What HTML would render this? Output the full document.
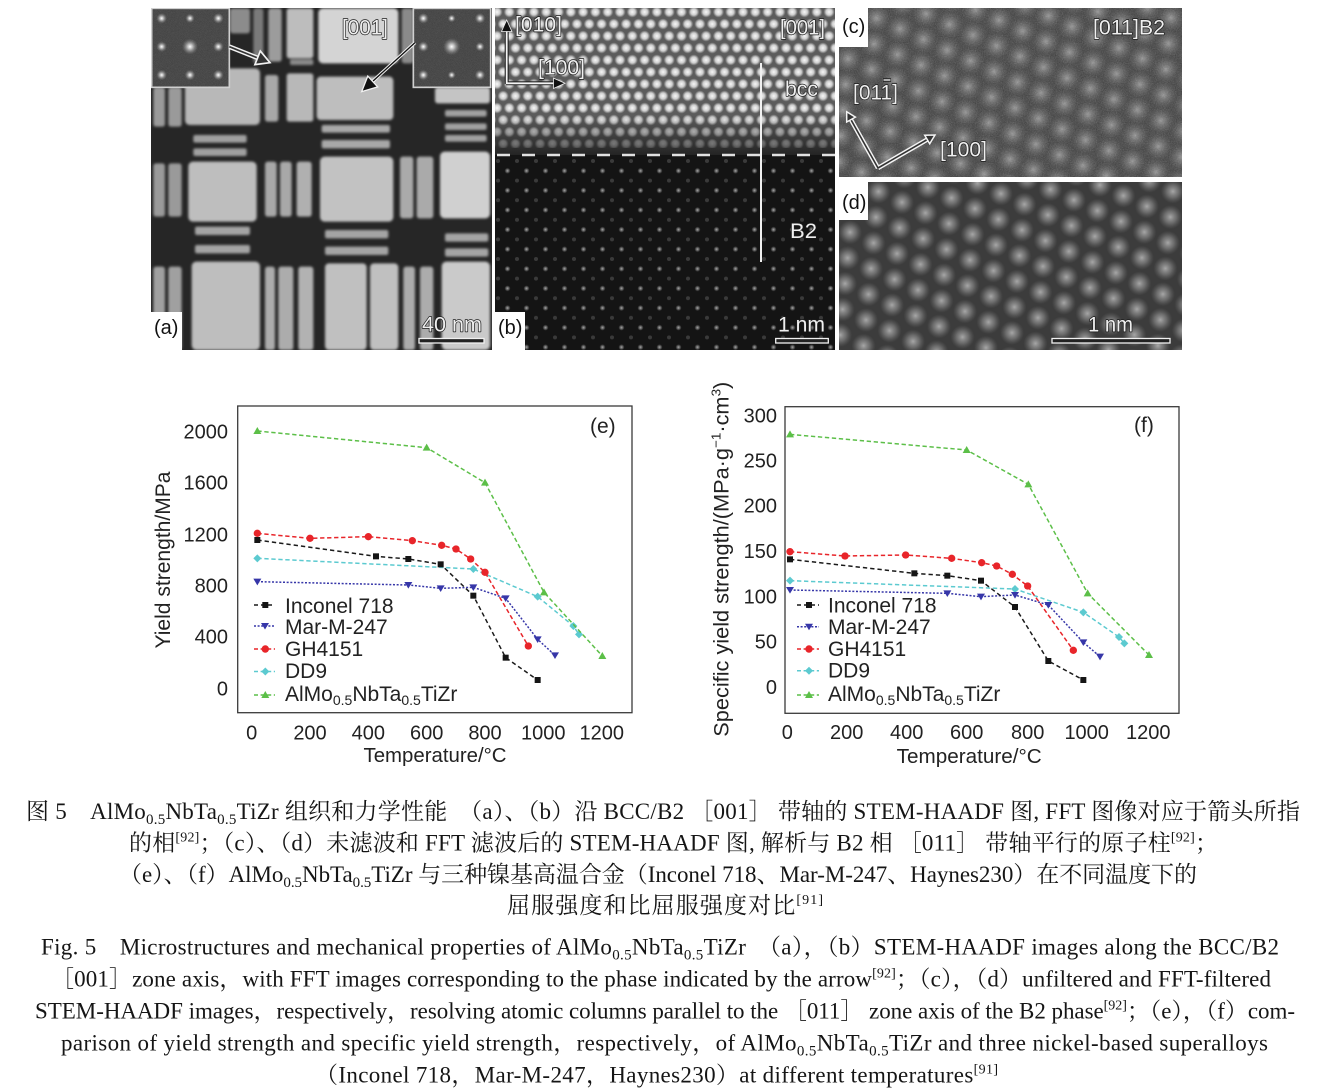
<!DOCTYPE html>
<html><head><meta charset="utf-8"><title>Fig 5</title>
<style>
html,body{margin:0;padding:0;background:#fff}
body{width:1320px;height:1091px;overflow:hidden;position:relative}
svg{position:absolute;left:0;top:0;display:block}
.il{font-family:"Liberation Sans",Arial,sans-serif;font-size:21px;fill:#efefef;stroke:#1c1c1c;stroke-width:1.4px;paint-order:stroke;stroke-linejoin:round}
.pl{font-family:"Liberation Sans",Arial,sans-serif;font-size:20px;fill:#111}
.ax{font-family:"Liberation Sans",Arial,sans-serif;font-size:20px;fill:#222}
.lg{font-family:"Liberation Sans",Arial,sans-serif;font-size:21px;fill:#222}
.cp{font-family:"Liberation Serif","Noto Serif CJK SC",serif;font-size:23px;fill:#151515}
</style></head><body>
<svg width="1320" height="1091" viewBox="0 0 1320 1091" xmlns="http://www.w3.org/2000/svg">
<defs>
 <clipPath id="cpa"><rect x="151" y="8" width="341" height="342"/></clipPath>
 <clipPath id="cpb"><rect x="495" y="8" width="340" height="342"/></clipPath>
 <clipPath id="cpc"><rect x="839" y="8" width="343" height="169"/></clipPath>
 <clipPath id="cpd"><rect x="839" y="182" width="343" height="168"/></clipPath>
 <radialGradient id="gw"><stop offset="0" stop-color="#f8f8f8"/><stop offset="0.55" stop-color="#e2e2e2" stop-opacity="0.85"/><stop offset="1" stop-color="#d0d0d0" stop-opacity="0"/></radialGradient>
 <radialGradient id="gg"><stop offset="0" stop-color="#a8a8a8"/><stop offset="1" stop-color="#a8a8a8" stop-opacity="0"/></radialGradient>
 <radialGradient id="gs"><stop offset="0" stop-color="#a8a8a8"/><stop offset="0.5" stop-color="#828282" stop-opacity="0.7"/><stop offset="1" stop-color="#6a6a6a" stop-opacity="0"/></radialGradient>
 <radialGradient id="gs2"><stop offset="0" stop-color="#959595"/><stop offset="0.5" stop-color="#747474" stop-opacity="0.55"/><stop offset="1" stop-color="#5a5a5a" stop-opacity="0"/></radialGradient>
 <radialGradient id="gf"><stop offset="0" stop-color="#ffffff"/><stop offset="0.3" stop-color="#dddddd" stop-opacity="0.8"/><stop offset="1" stop-color="#888" stop-opacity="0"/></radialGradient>
 <linearGradient id="fade" x1="0" y1="0" x2="0" y2="1"><stop offset="0" stop-color="#141414" stop-opacity="0"/><stop offset="1" stop-color="#141414" stop-opacity="0.8"/></linearGradient>
 <pattern id="pbt" patternUnits="userSpaceOnUse" x="497" y="12" width="12.3" height="24">
  <circle cx="0" cy="0" r="5.6" fill="url(#gw)"/><circle cx="12.3" cy="0" r="5.6" fill="url(#gw)"/>
  <circle cx="0" cy="24" r="5.6" fill="url(#gw)"/><circle cx="12.3" cy="24" r="5.6" fill="url(#gw)"/>
  <circle cx="6.15" cy="12" r="5.6" fill="url(#gw)"/>
 </pattern>
 <pattern id="pbb" patternUnits="userSpaceOnUse" x="498" y="161" width="19" height="19.6">
  <circle cx="9.5" cy="9.8" r="3" fill="url(#gg)"/>
  <circle cx="0" cy="0" r="2" fill="#3a3a3a"/><circle cx="19" cy="0" r="2" fill="#3a3a3a"/>
  <circle cx="0" cy="19.6" r="2" fill="#3a3a3a"/><circle cx="19" cy="19.6" r="2" fill="#3a3a3a"/>
 </pattern>
 <pattern id="pd" patternUnits="userSpaceOnUse" x="839" y="182" width="30" height="42" patternTransform="rotate(-30 1000 260)">
  <circle cx="0" cy="0" r="12" fill="url(#gs)"/><circle cx="30" cy="0" r="12" fill="url(#gs)"/>
  <circle cx="0" cy="42" r="12" fill="url(#gs)"/><circle cx="30" cy="42" r="12" fill="url(#gs)"/>
  <circle cx="15" cy="21" r="12" fill="url(#gs)"/>
 </pattern>
 <pattern id="pc" patternUnits="userSpaceOnUse" x="839" y="8" width="30" height="42" patternTransform="rotate(-30 1000 90)">
  <circle cx="0" cy="0" r="14" fill="url(#gs2)"/><circle cx="30" cy="0" r="14" fill="url(#gs2)"/>
  <circle cx="0" cy="42" r="14" fill="url(#gs2)"/><circle cx="30" cy="42" r="14" fill="url(#gs2)"/>
  <circle cx="15" cy="21" r="14" fill="url(#gs2)"/>
 </pattern>
 <filter id="noise" x="0" y="0" width="100%" height="100%">
  <feTurbulence type="fractalNoise" baseFrequency="0.85" numOctaves="2" seed="4"/>
  <feColorMatrix type="saturate" values="0"/>
 </filter>
 <filter id="soft"><feGaussianBlur stdDeviation="4"/></filter>
 <marker id="mSq" markerUnits="userSpaceOnUse" markerWidth="30" markerHeight="30" refX="0" refY="0" overflow="visible"><rect x="-9" y="-9" width="18" height="18" fill="#151515"/></marker>
 <marker id="mDn" markerUnits="userSpaceOnUse" markerWidth="30" markerHeight="30" refX="0" refY="0" overflow="visible"><polygon points="-12,-9 12,-9 0,11" fill="#3636a8"/></marker>
 <marker id="mCi" markerUnits="userSpaceOnUse" markerWidth="30" markerHeight="30" refX="0" refY="0" overflow="visible"><circle cx="0" cy="0" r="11" fill="#e8252a"/></marker>
 <marker id="mDi" markerUnits="userSpaceOnUse" markerWidth="30" markerHeight="30" refX="0" refY="0" overflow="visible"><polygon points="0,-12 12,0 0,12 -12,0" fill="#5ccad0"/></marker>
 <marker id="mUp" markerUnits="userSpaceOnUse" markerWidth="30" markerHeight="30" refX="0" refY="0" overflow="visible"><polygon points="0,-12 12,9 -12,9" fill="#5cbf48"/></marker>
</defs>

<!-- ===== Panel (a) ===== -->
<g clip-path="url(#cpa)">
 <g transform="translate(150,0) scale(0.333333)">
  <rect x="0" y="20" width="1030" height="1035" fill="#262626"/>
  <g filter="url(#soft)">
   <rect x="240" y="25" width="60" height="75" rx="8" fill="#8c8c8c"/>
   <rect x="310" y="25" width="30" height="165" rx="8" fill="#7a7a7a"/>
   <rect x="355" y="25" width="40" height="160" rx="8" fill="#9c9c9c"/>
   <rect x="410" y="25" width="80" height="150" rx="8" fill="#bdbdbd"/>
   <rect x="420" y="178" width="70" height="17" rx="5" fill="#8a8a8a"/>
   <rect x="505" y="25" width="240" height="165" rx="14" fill="#d4d4d4"/>
   <rect x="755" y="25" width="35" height="165" rx="8" fill="#8a8a8a"/>
   <rect x="10" y="262" width="35" height="118" rx="8" fill="#9a9a9a"/>
   <rect x="55" y="262" width="40" height="118" rx="8" fill="#9a9a9a"/>
   <rect x="105" y="205" width="225" height="170" rx="14" fill="#b8b8b8"/>
   <rect x="345" y="225" width="40" height="140" rx="8" fill="#a8a8a8"/>
   <rect x="410" y="220" width="80" height="145" rx="8" fill="#b8b8b8"/>
   <rect x="500" y="230" width="230" height="130" rx="12" fill="#bebebe"/>
   <rect x="855" y="262" width="165" height="48" rx="8" fill="#c4c4c4"/>
   <rect x="885" y="330" width="125" height="20" rx="6" fill="#a0a0a0"/>
   <rect x="885" y="370" width="125" height="20" rx="6" fill="#a0a0a0"/>
   <rect x="885" y="405" width="125" height="20" rx="6" fill="#a0a0a0"/>
   <rect x="130" y="405" width="160" height="23" rx="6" fill="#a0a0a0"/>
   <rect x="130" y="445" width="160" height="23" rx="6" fill="#a0a0a0"/>
   <rect x="515" y="375" width="205" height="23" rx="6" fill="#a8a8a8"/>
   <rect x="515" y="420" width="205" height="25" rx="6" fill="#a8a8a8"/>
   <rect x="10" y="490" width="35" height="160" rx="8" fill="#9a9a9a"/>
   <rect x="55" y="490" width="40" height="160" rx="8" fill="#9a9a9a"/>
   <rect x="115" y="485" width="205" height="180" rx="14" fill="#bebebe"/>
   <rect x="345" y="485" width="35" height="165" rx="8" fill="#a8a8a8"/>
   <rect x="390" y="485" width="35" height="165" rx="8" fill="#a8a8a8"/>
   <rect x="440" y="485" width="45" height="165" rx="8" fill="#b0b0b0"/>
   <rect x="510" y="470" width="220" height="195" rx="14" fill="#c2c2c2"/>
   <rect x="750" y="470" width="40" height="185" rx="8" fill="#aaaaaa"/>
   <rect x="800" y="470" width="50" height="185" rx="8" fill="#aaaaaa"/>
   <rect x="870" y="455" width="150" height="200" rx="14" fill="#d0d0d0"/>
   <rect x="135" y="680" width="165" height="25" rx="6" fill="#a4a4a4"/>
   <rect x="135" y="735" width="165" height="25" rx="6" fill="#a4a4a4"/>
   <rect x="525" y="690" width="190" height="25" rx="6" fill="#a4a4a4"/>
   <rect x="525" y="740" width="190" height="25" rx="6" fill="#a4a4a4"/>
   <rect x="885" y="700" width="130" height="25" rx="6" fill="#a4a4a4"/>
   <rect x="885" y="745" width="130" height="25" rx="6" fill="#a4a4a4"/>
   <rect x="10" y="800" width="35" height="250" rx="8" fill="#a0a0a0"/>
   <rect x="55" y="800" width="40" height="250" rx="8" fill="#a0a0a0"/>
   <rect x="125" y="785" width="205" height="265" rx="14" fill="#bebebe"/>
   <rect x="345" y="800" width="30" height="250" rx="8" fill="#acacac"/>
   <rect x="385" y="800" width="45" height="250" rx="8" fill="#acacac"/>
   <rect x="445" y="800" width="45" height="250" rx="8" fill="#b2b2b2"/>
   <rect x="525" y="790" width="125" height="260" rx="12" fill="#c0c0c0"/>
   <rect x="660" y="790" width="85" height="260" rx="12" fill="#c0c0c0"/>
   <rect x="760" y="800" width="35" height="250" rx="8" fill="#acacac"/>
   <rect x="810" y="800" width="40" height="250" rx="8" fill="#acacac"/>
   <rect x="875" y="785" width="145" height="265" rx="14" fill="#cacaca"/>
  </g>
  <!-- FFT insets -->
  <rect x="5" y="25" width="233" height="237" fill="#3c3c3c" stroke="#cfcfcf" stroke-width="5"/>
  <rect x="790" y="25" width="232" height="237" fill="#3c3c3c" stroke="#cfcfcf" stroke-width="5"/>
  <rect x="8" y="28" width="227" height="231" filter="url(#noise)" opacity="0.22"/>
  <rect x="793" y="28" width="226" height="231" filter="url(#noise)" opacity="0.22"/>
  <g fill="url(#gf)">
   <circle cx="35" cy="55" r="16"/><circle cx="120" cy="55" r="14"/><circle cx="205" cy="55" r="16"/>
   <circle cx="35" cy="140" r="16"/><circle cx="120" cy="140" r="24"/><circle cx="205" cy="140" r="16"/>
   <circle cx="35" cy="225" r="16"/><circle cx="120" cy="225" r="16"/><circle cx="205" cy="225" r="16"/>
   <circle cx="820" cy="55" r="16"/><circle cx="905" cy="55" r="12"/><circle cx="990" cy="55" r="16"/>
   <circle cx="820" cy="140" r="16"/><circle cx="905" cy="140" r="26"/><circle cx="990" cy="140" r="14"/>
   <circle cx="820" cy="225" r="16"/><circle cx="905" cy="225" r="12"/><circle cx="990" cy="225" r="16"/>
  </g>
  <!-- arrows -->
  <line x1="238" y1="140" x2="326" y2="175" stroke="#f2f2f2" stroke-width="14"/>
  <line x1="238" y1="140" x2="326" y2="175" stroke="#333" stroke-width="5"/>
  <polygon points="360,188 314.7,193.9 330.9,152.9" fill="#333" stroke="#f2f2f2" stroke-width="5" stroke-linejoin="miter"/>
  <line x1="795" y1="128" x2="668" y2="244" stroke="#f2f2f2" stroke-width="10"/>
  <line x1="795" y1="128" x2="668" y2="244" stroke="#111" stroke-width="4"/>
  <polygon points="635,275 683.1,260.7 653.3,228.3" fill="#111" stroke="#f2f2f2" stroke-width="4"/>
 </g>
 <rect x="151" y="312" width="31" height="38" fill="#fff"/>
 <text class="pl" x="154" y="334">(a)</text>
 <text class="il" x="342" y="34.5" textLength="46" lengthAdjust="spacingAndGlyphs">[001]</text>
 <text class="il" x="422" y="331.5" textLength="60" lengthAdjust="spacingAndGlyphs">40 nm</text>
 <rect x="419" y="338.5" width="65" height="4.5" fill="#222" stroke="#f0f0f0" stroke-width="1.3"/>
</g>

<!-- ===== Panel (b) ===== -->
<g clip-path="url(#cpb)">
 <rect x="495" y="8" width="340" height="148" fill="#5c5c5c"/>
 <rect x="495" y="8" width="340" height="140" fill="url(#pbt)"/>
 <rect x="495" y="115" width="340" height="41" fill="url(#fade)"/>
 <rect x="495" y="155" width="340" height="195" fill="#141414"/>
 <rect x="495" y="157" width="340" height="193" fill="url(#pbb)"/>
 <line x1="497" y1="155" x2="835" y2="155" stroke="#e0e0e0" stroke-width="2.6" stroke-dasharray="13 12"/>
 <line x1="761" y1="63" x2="761" y2="262" stroke="#f0f0f0" stroke-width="2"/>
 <line x1="506.7" y1="84" x2="506.7" y2="30" stroke="#222" stroke-width="4"/>
 <line x1="506" y1="83.3" x2="556" y2="83.3" stroke="#222" stroke-width="4"/>
 <line x1="506.7" y1="84" x2="506.7" y2="30" stroke="#f4f4f4" stroke-width="1.8"/>
 <line x1="506" y1="83.3" x2="556" y2="83.3" stroke="#f4f4f4" stroke-width="1.8"/>
 <polygon points="506.7,20 501.5,31.5 511.9,31.5" fill="#111" stroke="#eee" stroke-width="0.8"/>
 <polygon points="565,83.3 553.5,78.1 553.5,88.5" fill="#111" stroke="#eee" stroke-width="0.8"/>
 <text class="il" x="515" y="31.5" textLength="47" lengthAdjust="spacingAndGlyphs">[010]</text>
 <text class="il" x="538" y="74.5" textLength="47" lengthAdjust="spacingAndGlyphs">[100]</text>
 <text class="il" x="780" y="34.5" textLength="45" lengthAdjust="spacingAndGlyphs">[001]</text>
 <text class="il" x="785" y="96" textLength="33" lengthAdjust="spacingAndGlyphs">bcc</text>
 <text class="il" x="790" y="238" textLength="27" lengthAdjust="spacingAndGlyphs">B2</text>
 <text class="il" x="778" y="331.5" textLength="47" lengthAdjust="spacingAndGlyphs">1 nm</text>
 <rect x="775.7" y="338.5" width="52.6" height="4.5" fill="#222" stroke="#f0f0f0" stroke-width="1.3"/>
 <rect x="495" y="312" width="30" height="38" fill="#fff"/>
 <text class="pl" x="498" y="334">(b)</text>
</g>

<!-- ===== Panel (c) ===== -->
<g clip-path="url(#cpc)">
 <rect x="839" y="8" width="343" height="169" fill="#3e3e3e"/>
 <rect x="839" y="8" width="343" height="169" fill="url(#pc)"/>
 <rect x="839" y="8" width="343" height="169" filter="url(#noise)" opacity="0.32"/>
 <line x1="878" y1="168" x2="850" y2="118" stroke="#f4f4f4" stroke-width="4.5"/>
 <line x1="878" y1="168" x2="929" y2="138.5" stroke="#f4f4f4" stroke-width="4.5"/>
 <line x1="878" y1="168" x2="850" y2="118" stroke="#333" stroke-width="1.6"/>
 <line x1="878" y1="168" x2="929" y2="138.5" stroke="#333" stroke-width="1.6"/>
 <polygon points="846.7,111.7 855.4,117.1 846.7,122" fill="#333" stroke="#f4f4f4" stroke-width="1.5"/>
 <polygon points="935,135 929.7,143.8 924.7,135.2" fill="#333" stroke="#f4f4f4" stroke-width="1.5"/>
 <text class="il" x="1093" y="34.5" textLength="72" lengthAdjust="spacingAndGlyphs">[011]B2</text>
 <text class="il" x="853" y="99.5" textLength="45" lengthAdjust="spacingAndGlyphs">[011]</text>
 <line x1="883" y1="80" x2="891" y2="80" stroke="#1c1c1c" stroke-width="3.4"/>
 <line x1="883.5" y1="80" x2="890.5" y2="80" stroke="#efefef" stroke-width="1.4"/>
 <text class="il" x="940" y="156.5" textLength="47" lengthAdjust="spacingAndGlyphs">[100]</text>
 <rect x="839" y="8" width="29" height="39" fill="#fff"/>
 <text class="pl" x="842" y="33">(c)</text>
</g>

<!-- ===== Panel (d) ===== -->
<g clip-path="url(#cpd)">
 <rect x="839" y="182" width="343" height="168" fill="#3c3c3c"/>
 <rect x="839" y="182" width="343" height="168" fill="url(#pd)"/>
 <text class="il" x="1088" y="331.5" textLength="45" lengthAdjust="spacingAndGlyphs">1 nm</text>
 <rect x="1052" y="338.5" width="118" height="4.5" fill="#222" stroke="#f0f0f0" stroke-width="1.3"/>
 <rect x="839" y="182" width="29" height="38" fill="#fff"/>
 <text class="pl" x="842" y="209">(d)</text>
</g>

<!-- ===== Chart (e) ===== -->
<rect x="237.7" y="406" width="394.3" height="306.7" fill="none" stroke="#3a3a3a" stroke-width="1.3"/>
<g transform="translate(150,395) scale(0.333333)" fill="none" stroke-width="4.5">
 <polyline points="322,490 970,522 1163,605 1270,693 1287,718" stroke="#5ccad0" stroke-dasharray="13 8" marker-start="url(#mDi)" marker-mid="url(#mDi)" marker-end="url(#mDi)"/>
 <polyline points="322,560 775,570 872,580 970,577 1067,610 1163,733 1215,781" stroke="#3636a8" stroke-dasharray="6 5" marker-start="url(#mDn)" marker-mid="url(#mDn)" marker-end="url(#mDn)"/>
 <polyline points="322,435 678,484 775,492 872,508 970,602 1067,788 1163,855" stroke="#1a1a1a" stroke-dasharray="13 9" marker-start="url(#mSq)" marker-mid="url(#mSq)" marker-end="url(#mSq)"/>
 <polyline points="322,415 480,430 655,425 787,437 875,451 918,462 962,492 1005,532 1135,753" stroke="#e8252a" stroke-dasharray="13 8" marker-start="url(#mCi)" marker-mid="url(#mCi)" marker-end="url(#mCi)"/>
 <polyline points="322,108 830,158 1005,263 1182,592 1357,783" stroke="#5cbf48" stroke-dasharray="13 8" marker-start="url(#mUp)" marker-mid="url(#mUp)" marker-end="url(#mUp)"/>
</g>
<g class="ax" text-anchor="end">
 <text x="228" y="438.3">2000</text>
 <text x="228" y="489.6">1600</text>
 <text x="228" y="541.3">1200</text>
 <text x="228" y="592.7">800</text>
 <text x="228" y="643.7">400</text>
 <text x="228" y="695.3">0</text>
</g>
<g class="ax" text-anchor="middle">
 <text x="251.7" y="739.3">0</text>
 <text x="310" y="739.3">200</text>
 <text x="368.3" y="739.3">400</text>
 <text x="426.7" y="739.3">600</text>
 <text x="485" y="739.3">800</text>
 <text x="543.3" y="739.3">1000</text>
 <text x="601.8" y="739.3">1200</text>
</g>
<text class="ax" x="363.5" y="762" textLength="143" lengthAdjust="spacingAndGlyphs">Temperature/°C</text>
<text class="lg" transform="translate(170,560) rotate(-90)" text-anchor="middle" textLength="177" lengthAdjust="spacingAndGlyphs">Yield strength/MPa</text>
<text class="lg" x="590" y="433">(e)</text>
<!-- legend e -->
<g stroke-width="1.5" fill="none">
 <line x1="254" y1="605" x2="275" y2="605" stroke="#1a1a1a" stroke-dasharray="4 3"/>
 <line x1="254" y1="626" x2="275" y2="626" stroke="#3636a8" stroke-dasharray="2 1.6"/>
 <line x1="254" y1="649" x2="275" y2="649" stroke="#e8252a" stroke-dasharray="4 2.6"/>
 <line x1="254" y1="671.5" x2="275" y2="671.5" stroke="#5ccad0" stroke-dasharray="4 2.6"/>
 <line x1="254" y1="695" x2="275" y2="695" stroke="#5cbf48" stroke-dasharray="4 2.6"/>
</g>
<rect x="262.3" y="602" width="6" height="6" fill="#151515"/>
<polygon points="261,623 269,623 265,629.5" fill="#3636a8"/>
<circle cx="265.3" cy="649" r="3.7" fill="#e8252a"/>
<polygon points="265.3,667.5 269.3,671.5 265.3,675.5 261.3,671.5" fill="#5ccad0"/>
<polygon points="265.3,691 269.3,698 261.3,698" fill="#5cbf48"/>
<g class="lg">
 <text x="285" y="613">Inconel 718</text>
 <text x="285" y="634">Mar-M-247</text>
 <text x="285" y="656">GH4151</text>
 <text x="285" y="678">DD9</text>
 <text x="285" y="701">AlMo<tspan font-size="14" dy="4">0.5</tspan><tspan dy="-4">NbTa</tspan><tspan font-size="14" dy="4">0.5</tspan><tspan dy="-4">TiZr</tspan></text>
</g>

<!-- ===== Chart (f) ===== -->
<rect x="785" y="406.7" width="394" height="306.6" fill="none" stroke="#3a3a3a" stroke-width="1.3"/>
<g transform="translate(700,375) scale(0.333333)" fill="none" stroke-width="4.5">
 <polyline points="270,617 945,642 1150,712 1257,786 1273,805" stroke="#5ccad0" stroke-dasharray="13 8" marker-start="url(#mDi)" marker-mid="url(#mDi)" marker-end="url(#mDi)"/>
 <polyline points="270,645 742,655 843,665 945,660 1045,690 1150,802 1200,845" stroke="#3636a8" stroke-dasharray="6 5" marker-start="url(#mDn)" marker-mid="url(#mDn)" marker-end="url(#mDn)"/>
 <polyline points="270,553 643,595 742,602 843,617 945,696 1045,858 1150,915" stroke="#1a1a1a" stroke-dasharray="13 9" marker-start="url(#mSq)" marker-mid="url(#mSq)" marker-end="url(#mSq)"/>
 <polyline points="270,530 435,543 617,540 755,550 845,563 890,573 937,598 983,633 1120,826" stroke="#e8252a" stroke-dasharray="13 8" marker-start="url(#mCi)" marker-mid="url(#mCi)" marker-end="url(#mCi)"/>
 <polyline points="270,178 800,225 985,328 1163,655 1347,840" stroke="#5cbf48" stroke-dasharray="13 8" marker-start="url(#mUp)" marker-mid="url(#mUp)" marker-end="url(#mUp)"/>
</g>
<g class="ax" text-anchor="end">
 <text x="777" y="422.5">300</text>
 <text x="777" y="467.5">250</text>
 <text x="777" y="512.5">200</text>
 <text x="777" y="558">150</text>
 <text x="777" y="603.3">100</text>
 <text x="777" y="648.3">50</text>
 <text x="777" y="694">0</text>
</g>
<g class="ax" text-anchor="middle">
 <text x="787.3" y="739">0</text>
 <text x="846.7" y="739">200</text>
 <text x="906.7" y="739">400</text>
 <text x="966.7" y="739">600</text>
 <text x="1027.7" y="739">800</text>
 <text x="1086.7" y="739">1000</text>
 <text x="1148.3" y="739">1200</text>
</g>
<text class="ax" x="896.7" y="763" textLength="145" lengthAdjust="spacingAndGlyphs">Temperature/°C</text>
<text class="lg" transform="translate(728.5,559.2) rotate(-90)" text-anchor="middle" textLength="355" lengthAdjust="spacingAndGlyphs">Specific yield strength/(MPa·g<tspan font-size="13" dy="-8">−1</tspan><tspan dy="8">·cm</tspan><tspan font-size="13" dy="-8">3</tspan><tspan dy="8">)</tspan></text>
<text class="lg" x="1134" y="432">(f)</text>
<!-- legend f -->
<g stroke-width="1.5" fill="none">
 <line x1="797" y1="605" x2="819" y2="605" stroke="#1a1a1a" stroke-dasharray="4 3"/>
 <line x1="797" y1="626.7" x2="819" y2="626.7" stroke="#3636a8" stroke-dasharray="2 1.6"/>
 <line x1="797" y1="649" x2="819" y2="649" stroke="#e8252a" stroke-dasharray="4 2.6"/>
 <line x1="797" y1="670.7" x2="819" y2="670.7" stroke="#5ccad0" stroke-dasharray="4 2.6"/>
 <line x1="797" y1="695" x2="819" y2="695" stroke="#5cbf48" stroke-dasharray="4 2.6"/>
</g>
<rect x="806" y="602" width="6" height="6" fill="#151515"/>
<polygon points="805,623.7 813,623.7 809,630.2" fill="#3636a8"/>
<circle cx="809" cy="649" r="3.7" fill="#e8252a"/>
<polygon points="809,666.7 813,670.7 809,674.7 805,670.7" fill="#5ccad0"/>
<polygon points="809,691 813,698 805,698" fill="#5cbf48"/>
<g class="lg">
 <text x="828" y="612.5">Inconel 718</text>
 <text x="828" y="634">Mar-M-247</text>
 <text x="828" y="656">GH4151</text>
 <text x="828" y="677.7">DD9</text>
 <text x="828" y="701">AlMo<tspan font-size="14" dy="4">0.5</tspan><tspan dy="-4">NbTa</tspan><tspan font-size="14" dy="4">0.5</tspan><tspan dy="-4">TiZr</tspan></text>
</g>

<!-- ===== Captions ===== -->
<text class="cp" x="26" y="819" textLength="1274" lengthAdjust="spacing">图 5　AlMo<tspan font-size="15" dy="5">0.5</tspan><tspan dy="-5">NbTa</tspan><tspan font-size="15" dy="5">0.5</tspan><tspan dy="-5">TiZr 组织和力学性能　（a）、（b）沿 BCC/B2 ［001］ 带轴的 STEM-HAADF 图, FFT 图像对应于箭头所指</tspan></text>
<text class="cp" x="129" y="850.5" textLength="1089" lengthAdjust="spacing">的相<tspan font-size="14" dy="-9">[92]</tspan><tspan dy="9">；（c）、（d）未滤波和 FFT 滤波后的 STEM-HAADF 图, 解析与 B2 相 ［011］ 带轴平行的原子柱</tspan><tspan font-size="14" dy="-9">[92]</tspan><tspan dy="9">；</tspan></text>
<text class="cp" x="119" y="882" textLength="1078" lengthAdjust="spacing">（e）、（f）AlMo<tspan font-size="15" dy="5">0.5</tspan><tspan dy="-5">NbTa</tspan><tspan font-size="15" dy="5">0.5</tspan><tspan dy="-5">TiZr 与三种镍基高温合金（Inconel 718、Mar-M-247、Haynes230）在不同温度下的</tspan></text>
<text class="cp" x="507" y="913" textLength="316" lengthAdjust="spacing">屈服强度和比屈服强度对比<tspan font-size="14" dy="-9">[91]</tspan></text>

<text class="cp" x="41" y="954.5" textLength="1238" lengthAdjust="spacing">Fig. 5　Microstructures and mechanical properties of AlMo<tspan font-size="15" dy="5">0.5</tspan><tspan dy="-5">NbTa</tspan><tspan font-size="15" dy="5">0.5</tspan><tspan dy="-5">TiZr　（a），（b）STEM-HAADF images along the BCC/B2</tspan></text>
<text class="cp" x="51" y="986.7" textLength="1220" lengthAdjust="spacing">［001］zone axis，with FFT images corresponding to the phase indicated by the arrow<tspan font-size="14" dy="-9">[92]</tspan><tspan dy="9">；（c），（d）unfiltered and FFT-filtered</tspan></text>
<text class="cp" x="35" y="1018.7" textLength="1260" lengthAdjust="spacing">STEM-HAADF images，respectively，resolving atomic columns parallel to the ［011］ zone axis of the B2 phase<tspan font-size="14" dy="-9">[92]</tspan><tspan dy="9">；（e），（f）com-</tspan></text>
<text class="cp" x="61" y="1050.7" textLength="1207" lengthAdjust="spacing">parison of yield strength and specific yield strength，respectively，of AlMo<tspan font-size="15" dy="5">0.5</tspan><tspan dy="-5">NbTa</tspan><tspan font-size="15" dy="5">0.5</tspan><tspan dy="-5">TiZr and three nickel-based superalloys</tspan></text>
<text class="cp" x="315" y="1082.7" textLength="683" lengthAdjust="spacing">（Inconel 718，Mar-M-247，Haynes230）at different temperatures<tspan font-size="14" dy="-9">[91]</tspan></text>
</svg>
</body></html>
